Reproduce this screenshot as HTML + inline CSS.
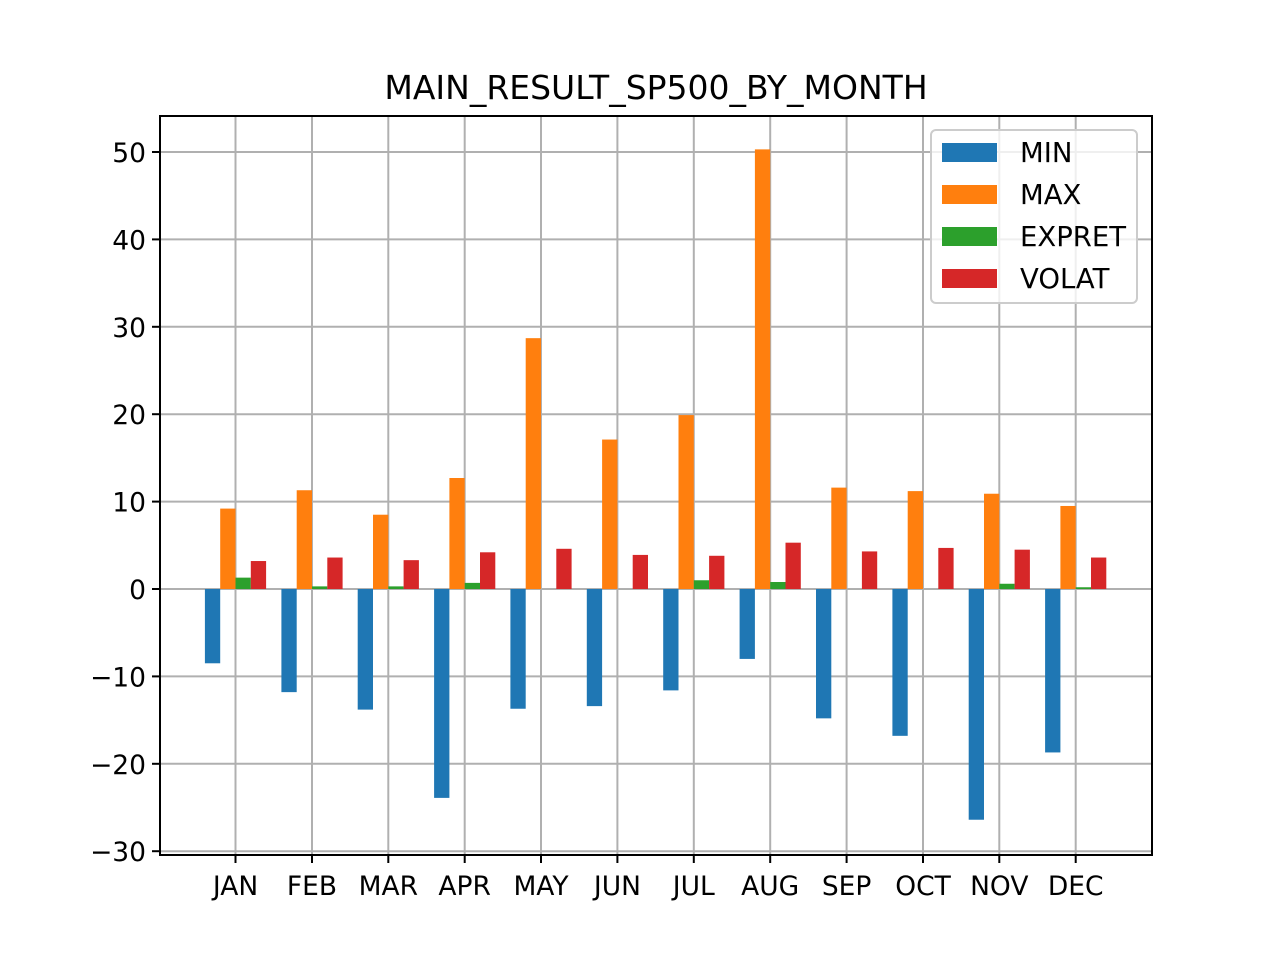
<!DOCTYPE html>
<html><head><meta charset="utf-8"><style>body{margin:0;background:#fff}svg{display:block}text{font-family:"DejaVu Sans","Liberation Sans",sans-serif;fill:#000}</style></head>
<body>
<svg id="s" width="1280" height="960" xmlns="http://www.w3.org/2000/svg"></svg>
<script>
const s=document.getElementById('s');let h='';
const L=160,R=1152,T=116,B=855;
const y=v=>589-v*8.74;
const xs=[235.5,312,388.3,464.7,541,617.4,693.8,770.2,846.6,923,999.3,1075.7];
const names=['JAN','FEB','MAR','APR','MAY','JUN','JUL','AUG','SEP','OCT','NOV','DEC'];
const d=[[-8.5,9.2,1.3,3.2],[-11.8,11.3,0.3,3.6],[-13.8,8.5,0.3,3.3],[-23.9,12.7,0.7,4.2],[-13.7,28.7,0,4.6],[-13.4,17.1,0,3.9],[-11.6,19.9,1.0,3.8],[-8.0,50.3,0.8,5.3],[-14.8,11.6,0,4.3],[-16.8,11.2,0,4.7],[-26.4,10.9,0.6,4.5],[-18.7,9.5,0.2,3.6]];
const c=['#1f77b4','#ff7f0e','#2ca02c','#d62728'];
h+=`<text x="656" y="99" font-size="33" text-anchor="middle">MAIN_RESULT_SP500_BY_MONTH</text>`;
for(let v=-30;v<=50;v+=10){const yy=y(v);h+=`<line x1="${L}" x2="${R}" y1="${yy}" y2="${yy}" stroke="#b0b0b0" stroke-width="2"/><line x1="${L-8}" x2="${L}" y1="${yy}" y2="${yy}" stroke="#000" stroke-width="2"/><text x="${L-14}" y="${yy+10}" font-size="26.5" text-anchor="end">${v<0?'\u2212'+(-v):v}</text>`;}
xs.forEach((x,i)=>{h+=`<line x1="${x}" x2="${x}" y1="${T}" y2="${B}" stroke="#b0b0b0" stroke-width="2"/><line x1="${x}" x2="${x}" y1="${B}" y2="${B+8}" stroke="#000" stroke-width="2"/><text x="${x}" y="${B+40}" font-size="26.5" text-anchor="middle">${names[i]}</text>`;});
const w=15.3;
xs.forEach((x,i)=>{d[i].forEach((v,k)=>{const x0=x-2*w+k*w;const a=y(Math.max(v,0)),b=y(Math.min(v,0));h+=`<rect x="${x0}" y="${a}" width="${w}" height="${Math.max(b-a,0.01)}" fill="${c[k]}"/>`;});});
h+=`<rect x="${L}" y="${T}" width="${R-L}" height="${B-T}" fill="none" stroke="#000" stroke-width="2"/>`;
h+=`<rect x="931" y="130" width="206" height="173" rx="5" fill="#fff" fill-opacity="0.8" stroke="#ccc" stroke-width="2"/>`;
['MIN','MAX','EXPRET','VOLAT'].forEach((t,k)=>{const yy=143+k*42;h+=`<rect x="942" y="${yy}" width="55" height="19" fill="${c[k]}"/><text x="1020" y="${yy+19}" font-size="27.5">${t}</text>`;});
s.innerHTML=h;
</script>
</body></html>
